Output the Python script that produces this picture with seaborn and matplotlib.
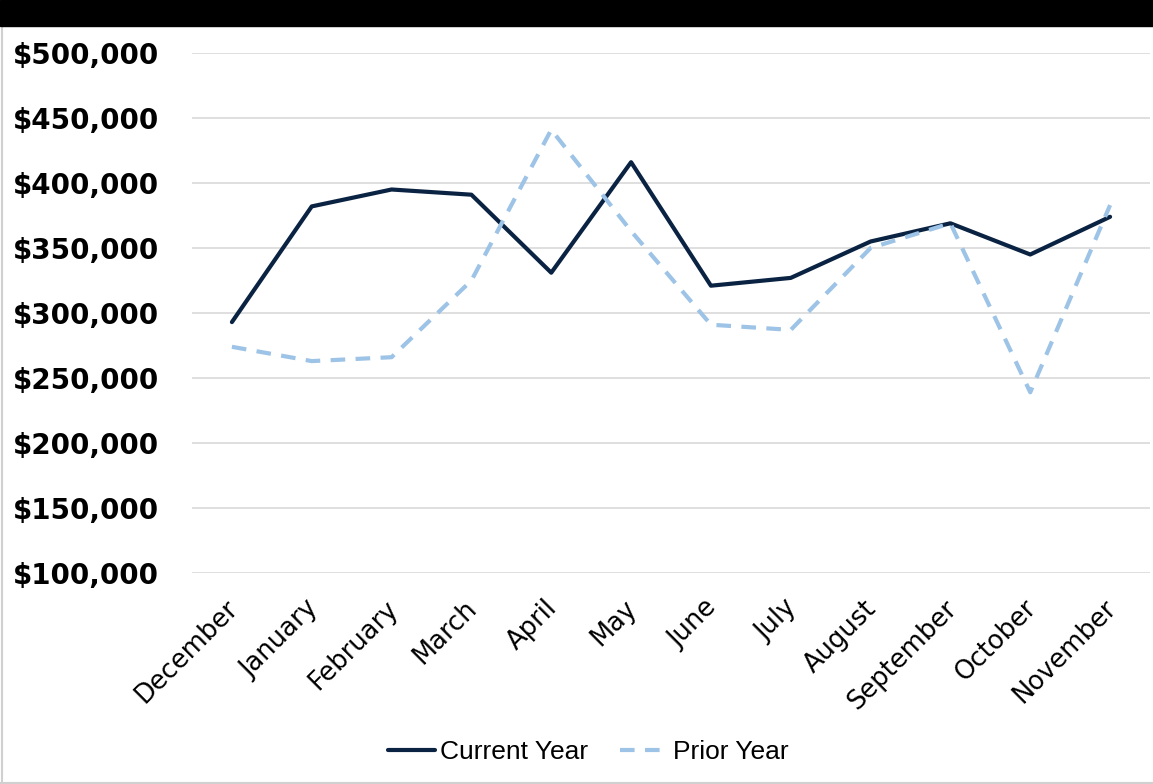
import pandas as pd
import numpy as np
import matplotlib
matplotlib.use('Agg')
import matplotlib.pyplot as plt
import matplotlib.transforms as mtransforms
from matplotlib.patches import Rectangle
from matplotlib.lines import Line2D
from matplotlib.ticker import FuncFormatter
import seaborn as sns

months = ['December', 'January', 'February', 'March', 'April', 'May',
          'June', 'July', 'August', 'September', 'October', 'November']
current_year = [293000, 382000, 395000, 391000, 331000, 416000,
                321000, 327000, 355000, 369000, 345000, 374000]
prior_year = [274000, 263000, 266000, 325000, 441000, 363000,
              291000, 287000, 350000, 369000, 239000, 383000]
series_names = ['Current Year', 'Prior Year']
y_ticks = [100000, 150000, 200000, 250000, 300000, 350000, 400000, 450000, 500000]

df = pd.DataFrame({'Month': months * 2,
                   'Value': current_year + prior_year,
                   'Series': [series_names[0]] * len(months) + [series_names[1]] * len(months)})

sns.set_style('white')
plt.rcParams['font.family'] = ['DejaVu Sans']
plt.rcParams['text.color'] = 'black'

fig = plt.figure(figsize=(11.53, 7.84), dpi=100)
ax = fig.add_axes([192/1153, 1-573/784, (1150-192)/1153, (573-53)/784])

colors = {'Current Year': '#0b2343', 'Prior Year': '#9dc3e6'}
sns.lineplot(data=df, x='Month', y='Value', hue='Series', style='Series',
             palette=colors, dashes={'Current Year': '', 'Prior Year': (3.5, 2.5)},
             linewidth=3, sort=False, ax=ax, legend=False)

ax.set_ylim(100000, 500000)
ax.set_yticks(y_ticks)
ax.yaxis.set_major_formatter(FuncFormatter(lambda v, p: '${:,.0f}'.format(v)))
ax.set_xlim(-0.5, len(months) - 0.5)
ax.grid(axis='y', color='#d9d9d9', linewidth=1.2)
ax.set_axisbelow(True)
for s in ax.spines.values():
    s.set_visible(False)
ax.set_xlabel('')
ax.set_ylabel('')
ax.tick_params(axis='y', length=0, pad=24, labelsize=20, labelcolor='black')
ax.tick_params(axis='x', length=0, pad=16, labelsize=18.5, labelcolor='black')
for lab in ax.get_yticklabels():
    lab.set_fontweight('bold')
shift = mtransforms.ScaledTranslation(-7/100, 0, fig.dpi_scale_trans)
for lab in ax.get_xticklabels():
    lab.set_rotation(45)
    lab.set_ha('right')
    lab.set_rotation_mode('anchor')
    lab.set_transform(lab.get_transform() + shift)

handles = [Line2D([], [], color=colors['Current Year'], lw=3),
           Line2D([], [], color=colors['Prior Year'], lw=3, dashes=(3.5, 2.5))]
fig.legend(handles, series_names, loc='center', bbox_to_anchor=(0.51, 1-752/784),
           ncol=2, frameon=False, handlelength=1.8, handletextpad=0.2,
           columnspacing=1.2, labelcolor='black',
           prop={'family': ['Liberation Sans', 'DejaVu Sans'], 'size': 19})

# black band on top and thin frame
fig.add_artist(Rectangle((0, 1-26/784), 1, 26/784, transform=fig.transFigure,
                         color='black', zorder=10))
fig.add_artist(Line2D([1.5/1153, 1.5/1153], [0, 1-26/784], transform=fig.transFigure,
                      color='#d0d0d0', lw=1.5))
fig.add_artist(Line2D([0, 1], [1.5/784, 1.5/784], transform=fig.transFigure,
                      color='#d0d0d0', lw=1.5))

plt.savefig('out.png', dpi=100)
